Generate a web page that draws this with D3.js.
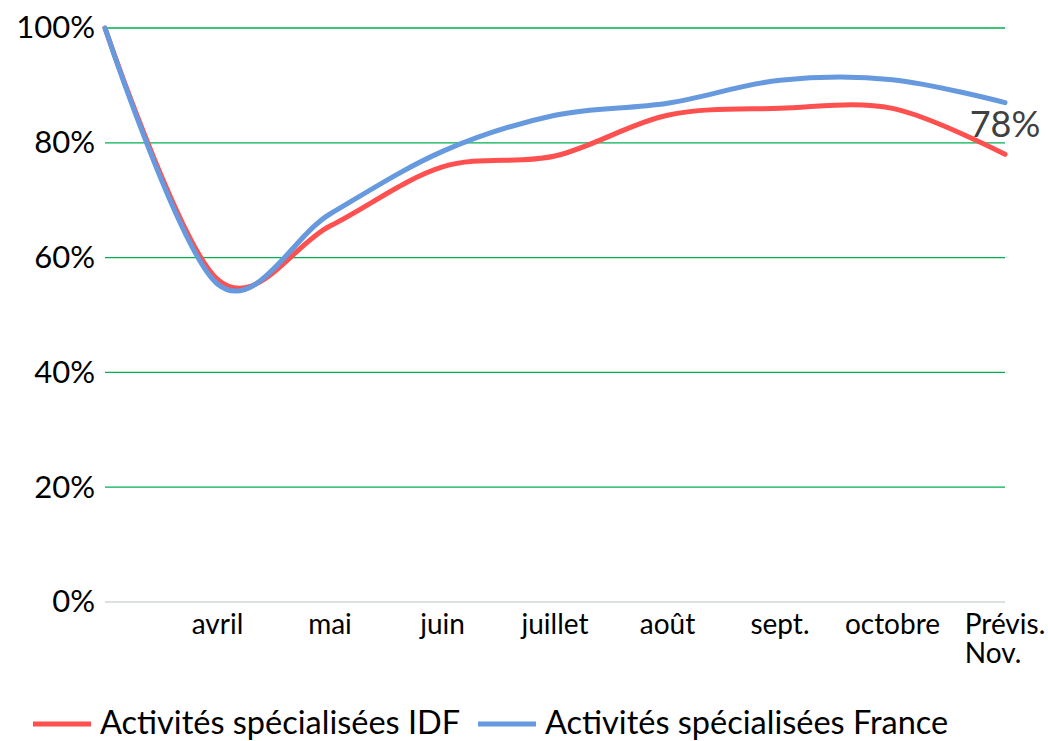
<html>
  <head>
    <meta charset="utf-8">
    <script src="https://d3js.org/d3.v7.min.js"></script>
    <style>
      body { margin: 0; background: #fff; }
      text { font-family: Lato, "Open Sans", sans-serif; }
    </style>
  </head>
  <body>
    <svg width="1048" height="741" id="svg1"></svg>
    <script>
    // categories (first one has no label in the original)
    var categories = ["", "avril", "mai", "juin", "juillet", "août", "sept.", "octobre", "Prévis.\nNov."];
    var idfValues = [1.00, 0.562, 0.655, 0.758, 0.777, 0.848, 0.860, 0.860, 0.78];
    var franceValues = [1.00, 0.554, 0.676, 0.785, 0.848, 0.869, 0.909, 0.910, 0.870];
    var yTicks = [0, 0.2, 0.4, 0.6, 0.8, 1.0];
    var seriesNames = ["Activités spécialisées IDF", "Activités spécialisées France"];
    var seriesColors = ["#FF5050", "#6699DD"];

    var svg = d3.select("#svg1");

    var x = d3.scalePoint().domain(d3.range(categories.length)).range([105, 1005]);
    var y = d3.scaleLinear().domain([0, 1]).range([602, 28]);

    // gridlines
    svg.append("g")
      .selectAll("line")
      .data(yTicks.filter(function(d) { return d > 0; }))
      .enter().append("line")
      .attr("x1", 105).attr("x2", 1005)
      .attr("y1", function(d) { return y(d); })
      .attr("y2", function(d) { return y(d); })
      .attr("stroke", "#00B050")
      .attr("stroke-width", 1.3);

    // baseline
    svg.append("line")
      .attr("x1", 105).attr("x2", 1005)
      .attr("y1", y(0)).attr("y2", y(0))
      .attr("stroke", "#D0D6D6")
      .attr("stroke-width", 1.3);

    // y axis labels
    var yAxis = svg.append("g")
      .attr("transform", "translate(95,0)")
      .call(d3.axisLeft(y).tickValues(yTicks).tickSize(0).tickPadding(0)
        .tickFormat(function(d) { return Math.round(d * 100) + "%"; }));
    yAxis.select(".domain").remove();
    yAxis.selectAll("text")
      .attr("font-family", "Lato, 'Open Sans', sans-serif")
      .attr("font-size", "31px")
      .attr("fill", "#000")
      .attr("dy", "0.32em");

    // x axis labels
    var xLabels = svg.append("g");
    categories.forEach(function(c, i) {
      var lines = c.split("\n");
      var t = xLabels.append("text")
        .attr("font-size", "28px")
        .attr("fill", "#000")
        .attr("y", 634);
      lines.forEach(function(l, k) {
        t.append("tspan").attr("x", x(i)).attr("dy", k === 0 ? 0 : 29).text(l);
      });
      if (lines.length > 1) {
        var w = d3.max(t.selectAll("tspan").nodes(), function(n) { return n.getComputedTextLength(); });
        t.selectAll("tspan").attr("x", x(i) - w / 2);
      } else {
        t.attr("text-anchor", "middle");
      }
    });

    // lines
    var line = d3.line()
      .x(function(d, i) { return x(i); })
      .y(function(d) { return y(d); })
      .curve(d3.curveCardinal.tension(0));

    [idfValues, franceValues].forEach(function(vals, s) {
      svg.append("path")
        .datum(vals)
        .attr("d", line)
        .attr("fill", "none")
        .attr("stroke", seriesColors[s])
        .attr("stroke-width", 5)
        .attr("stroke-linecap", "round")
        .attr("stroke-linejoin", "round");
    });

    // data label on last IDF point
    var last = idfValues.length - 1;
    svg.append("text")
      .attr("x", x(last))
      .attr("y", y(idfValues[last]) - 17)
      .attr("text-anchor", "middle")
      .attr("font-size", "36px")
      .attr("fill", "#404040")
      .text(Math.round(idfValues[last] * 100) + "%");

    // legend
    var legendX = [33, 478];
    seriesNames.forEach(function(n, s) {
      var g = svg.append("g").attr("transform", "translate(" + legendX[s] + ",0)");
      g.append("line")
        .attr("x1", 0).attr("x2", 58)
        .attr("y1", 724).attr("y2", 724)
        .attr("stroke", seriesColors[s])
        .attr("stroke-width", 5);
      g.append("text")
        .attr("x", 67)
        .attr("y", 734)
        .attr("font-size", "32.5px")
        .attr("fill", "#000")
        .text(n);
    });
    </script>
  </body>
</html>
